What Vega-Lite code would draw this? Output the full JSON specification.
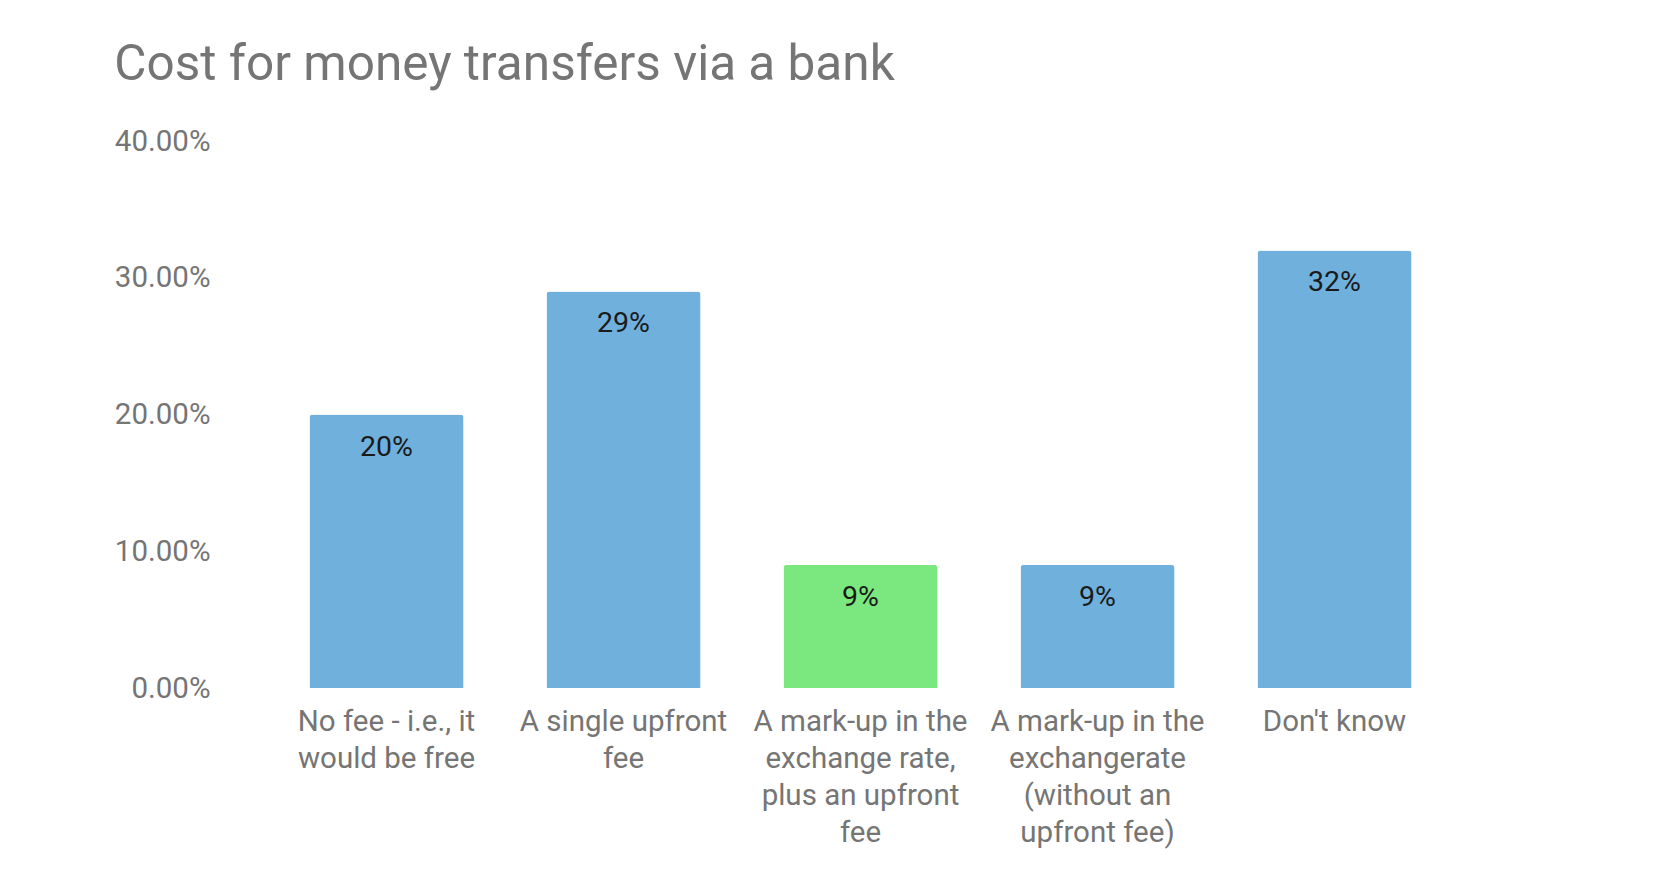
{
  "$schema": "https://vega.github.io/schema/vega-lite/v6.json",
  "autosize": {"type": "none"},
  "width": 1185,
  "height": 547,
  "padding": {"left": 268, "top": 141, "right": 207, "bottom": 194},
  "background": "white",
  "title": {
    "text": "Cost for money transfers via a bank",
    "anchor": "start",
    "frame": "bounds",
    "font": "Roboto",
    "fontSize": 49.5,
    "fontWeight": "normal",
    "color": "#757575",
    "offset": 36
  },
  "data": {
    "values": [
      {"option": "No fee - i.e., it|would be free", "share": 0.20, "highlight": "no"},
      {"option": "A single upfront|fee", "share": 0.29, "highlight": "no"},
      {"option": "A mark-up in the|exchange rate,|plus an upfront|fee", "share": 0.09, "highlight": "yes"},
      {"option": "A mark-up in the|exchangerate|(without an|upfront fee)", "share": 0.09, "highlight": "no"},
      {"option": "Don't know", "share": 0.32, "highlight": "no"}
    ]
  },
  "config": {
    "view": {"stroke": null},
    "font": "Roboto"
  },
  "encoding": {
    "x": {
      "field": "option",
      "type": "nominal",
      "sort": null,
      "scale": {"paddingInner": 0.35, "paddingOuter": 0.175},
      "axis": {
        "title": null,
        "labelAngle": 0,
        "labelExpr": "split(datum.label, '|')",
        "labelFont": "Roboto",
        "labelFontSize": 29.5,
        "labelColor": "#757575",
        "labelLineHeight": 37,
        "labelPadding": 19,
        "labelLimit": 400,
        "domain": false,
        "ticks": false
      }
    },
    "y": {
      "field": "share",
      "type": "quantitative",
      "scale": {"domain": [0, 0.4]},
      "axis": {
        "title": null,
        "values": [0, 0.1, 0.2, 0.3, 0.4],
        "format": ".2%",
        "labelFont": "Roboto",
        "labelFontSize": 29.5,
        "labelColor": "#757575",
        "labelPadding": 58,
        "grid": false,
        "domain": false,
        "ticks": false
      }
    }
  },
  "layer": [
    {
      "mark": {"type": "bar", "cornerRadiusTopLeft": 3, "cornerRadiusTopRight": 3},
      "encoding": {
        "color": {
          "field": "highlight",
          "type": "nominal",
          "scale": {"domain": ["no", "yes"], "range": ["#6FB0DD", "#7AE87E"]},
          "legend": null
        }
      }
    },
    {
      "mark": {"type": "text", "baseline": "middle", "dy": 32, "fontSize": 28.5, "color": "#1a1a1a", "font": "Roboto"},
      "encoding": {
        "text": {"field": "share", "type": "quantitative", "format": ".0%"}
      }
    }
  ]
}
